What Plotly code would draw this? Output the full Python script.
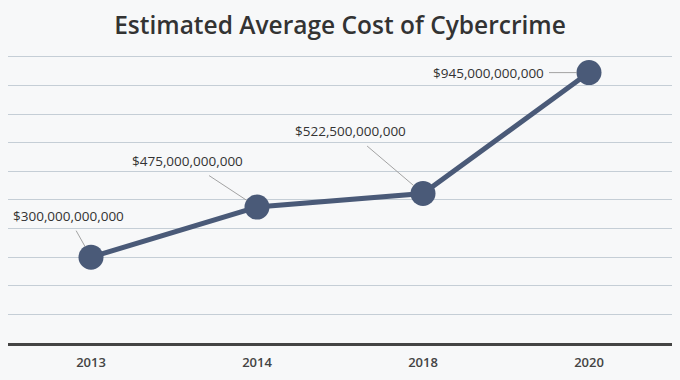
import plotly.graph_objects as go

years = ["2013", "2014", "2018", "2020"]
costs = [300e9, 475e9, 522.5e9, 945e9]
labels = ["$300,000,000,000", "$475,000,000,000", "$522,500,000,000", "$945,000,000,000"]
label_offsets = [(-23, -41), (-70, -46), (-73, -62), (-101, 0)]

fig = go.Figure()
fig.add_trace(go.Scatter(
    x=years, y=costs, mode="lines+markers",
    line=dict(color="#4a5a78", width=5),
    marker=dict(size=25, color="#4a5a78"),
    hoverinfo="skip",
))

annotations = []
for i, (v, lab, (ax, ay)) in enumerate(zip(costs, labels, label_offsets)):
    annotations.append(dict(
        x=i, y=v, xref="x", yref="y", text=lab.replace("$", "&#36;"),
        showarrow=True, arrowhead=0, arrowwidth=0.9,
        arrowcolor="#999999", ax=ax, ay=ay, axref="pixel", ayref="pixel", standoff=12,
        borderpad=5,
        font=dict(family="Open Sans", size=13.5, color="#333333"),
    ))

fig.update_layout(
    width=680, height=380,
    paper_bgcolor="#f7f8f9", plot_bgcolor="#f7f8f9",
    margin=dict(l=8, r=8, t=54, b=37),
    showlegend=False,
    annotations=annotations,
    title=dict(text="Estimated Average Cost of Cybercrime", x=0.5, xanchor="center",
               y=1 - 25 / 380, yref="container", yanchor="middle",
               font=dict(family="Open Sans", size=24.5, color="#333333", weight=600)),
)
fig.update_xaxes(type="category", range=[-0.5, 3.5], showgrid=False,
                 showline=True, linecolor="#444444", linewidth=3,
                 ticks="", tickfont=dict(family="Open Sans", size=13, color="#444444", weight=600),
                 ticklabelstandoff=5)
fig.update_yaxes(range=[0, 1010e9], tick0=0, dtick=100e9, showgrid=True, gridcolor="#c5ced6",
                 gridwidth=1, showticklabels=False, zeroline=False)

fig.write_html("out.html", config={"displayModeBar": False},
               post_script="document.body.style.margin='0';")
